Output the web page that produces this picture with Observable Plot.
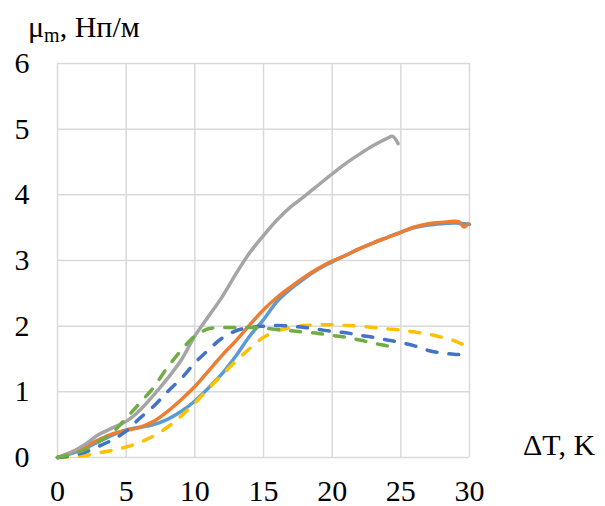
<!DOCTYPE html>
<html>
<head>
<meta charset="utf-8">
<script src="https://cdn.jsdelivr.net/npm/d3@7"></script>
<script src="https://cdn.jsdelivr.net/npm/@observablehq/plot@0.6"></script>
<style>
  html, body { margin: 0; padding: 0; background: #fff; }
  svg text { font-family: "Liberation Serif", "Times New Roman", serif !important; }
</style>
</head>
<body>
<div id="chart"></div>
<script>
const xTicks = [0, 5, 10, 15, 20, 25, 30];
const yTicks = [0, 1, 2, 3, 4, 5, 6];

// series 1 (light blue, solid)
const blueSolid = [[0,0],[1,0.06],[2,0.14],[3,0.24],[4,0.34],[5,0.42],[6,0.46],[7,0.5],[8,0.58],[9,0.7],[10,0.86],[11,1.06],[12,1.28],[13,1.55],[14,1.85],[15,2.1],[16,2.38],[17,2.57],[18,2.73],[19,2.87],[20,2.98],[21,3.08],[22,3.18],[23,3.27],[24,3.35],[25,3.43],[26,3.5],[27,3.54],[28,3.56],[29,3.57],[30,3.55]];
// series 2 (orange, solid)
const orangeSolid = [[0,0],[1,0.08],[2,0.17],[3,0.27],[4,0.36],[5,0.41],[6,0.46],[7,0.55],[8,0.7],[9,0.88],[10,1.08],[11,1.32],[12,1.56],[13,1.78],[14,2.02],[15,2.25],[16,2.44],[17,2.6],[18,2.75],[19,2.88],[20,2.99],[21,3.08],[22,3.18],[23,3.27],[24,3.35],[25,3.43],[26,3.51],[27,3.56],[28,3.58],[29.2,3.59],[29.6,3.51],[29.9,3.56]];
// series 3 (gray, solid)
const graySolid = [[0,0],[1,0.08],[2,0.2],[3,0.35],[4,0.45],[5,0.55],[6,0.72],[7,0.95],[8,1.2],[9,1.48],[10,1.85],[11,2.15],[12,2.45],[13,2.8],[14,3.12],[15,3.38],[16,3.62],[17,3.82],[18,3.98],[19,4.15],[20,4.32],[21,4.48],[22,4.62],[23,4.75],[24,4.86],[24.4,4.89],[24.8,4.78]];
// series 4 (yellow, dashed)
const yellowDash = [[0,0],[1,0.01],[2,0.03],[3,0.07],[4,0.11],[5,0.16],[6,0.23],[7,0.33],[8,0.46],[9,0.63],[10,0.83],[11,1.05],[12,1.26],[13,1.47],[14,1.66],[15,1.83],[16,1.93],[17,1.98],[18,2.01],[19,2.02],[20,2.02],[21,2.01],[22,2.0],[23,1.98],[24,1.96],[25,1.94],[26,1.91],[27,1.88],[28,1.83],[29,1.77],[30,1.67]];
// series 5 (dark blue, dashed)
const darkBlueDash = [[0,0],[1,0.03],[2,0.08],[3,0.17],[4,0.27],[5,0.4],[6,0.6],[7,0.78],[8,1.0],[9,1.2],[10,1.44],[11,1.64],[12,1.82],[13,1.93],[14,1.98],[15,2.0],[16,2.01],[17,2.0],[18,1.98],[19,1.95],[20,1.92],[21,1.9],[22,1.86],[23,1.83],[24,1.79],[25,1.75],[26,1.7],[27,1.63],[28,1.59],[29,1.57],[30,1.56]];
// series 6 (green, dashed)
const greenDash = [[0,0],[1,0.05],[2,0.12],[3,0.24],[4,0.38],[5,0.6],[6,0.83],[7,1.07],[8,1.37],[9,1.63],[10,1.85],[11,1.96],[12,1.98],[13,1.98],[14,1.98],[15,1.97],[16,1.95],[17,1.93],[18,1.91],[19,1.89],[20,1.86],[21,1.83],[22,1.79],[23,1.74],[24,1.7],[24.5,1.67]];

const series = [
  {data: blueSolid, color: "#5B9BD5", dash: null},
  {data: orangeSolid, color: "#ED7D31", dash: null},
  {data: graySolid, color: "#A5A5A5", dash: null},
  {data: yellowDash, color: "#FFC000", dash: "10,12"},
  {data: darkBlueDash, color: "#4472C4", dash: "10,12"},
  {data: greenDash, color: "#70AD47", dash: "10,12"}
];

const lineMarks = series.map(s => Plot.line(s.data, {
  x: d => d[0], y: d => d[1],
  stroke: s.color, strokeWidth: 3.5, curve: "catmull-rom",
  strokeLinecap: "round", strokeLinejoin: "round",
  ...(s.dash ? {strokeDasharray: s.dash} : {})
}));

const chart = Plot.plot({
  width: 605, height: 506,
  marginLeft: 57, marginRight: 136, marginTop: 63, marginBottom: 49,
  x: {domain: [0, 30]},
  y: {domain: [0, 6]},
  style: {fontFamily: "Liberation Serif", fontSize: "30px", color: "#000", background: "#fff"},
  marks: [
    Plot.ruleX(xTicks, {stroke: "#d9d9d9", strokeWidth: 1.5}),
    Plot.ruleY(yTicks, {stroke: "#d9d9d9", strokeWidth: 1.5}),
    Plot.axisX({ticks: xTicks, tickSize: 0, tickPadding: 22, label: null, fontSize: 30, tickFormat: d3.format("d")}),
    Plot.axisY({ticks: yTicks, tickSize: 0, tickPadding: 28, label: null, fontSize: 30, tickFormat: d3.format("d")}),
    ...lineMarks
  ]
});

const svg = d3.select(chart);
const title = svg.append("text")
  .attr("x", 28).attr("y", 37)
  .attr("text-anchor", "start")
  .attr("font-size", 30).attr("fill", "#000");
title.append("tspan").text("μ");
title.append("tspan").attr("font-size", 20).attr("dy", 5).text("m");
title.append("tspan").attr("dy", -5).text(", Нп/м");

svg.append("text")
  .attr("x", 523).attr("y", 455)
  .attr("text-anchor", "start")
  .attr("font-size", 30).attr("fill", "#000")
  .text("ΔT, K");

document.getElementById("chart").appendChild(chart);
</script>
</body>
</html>
